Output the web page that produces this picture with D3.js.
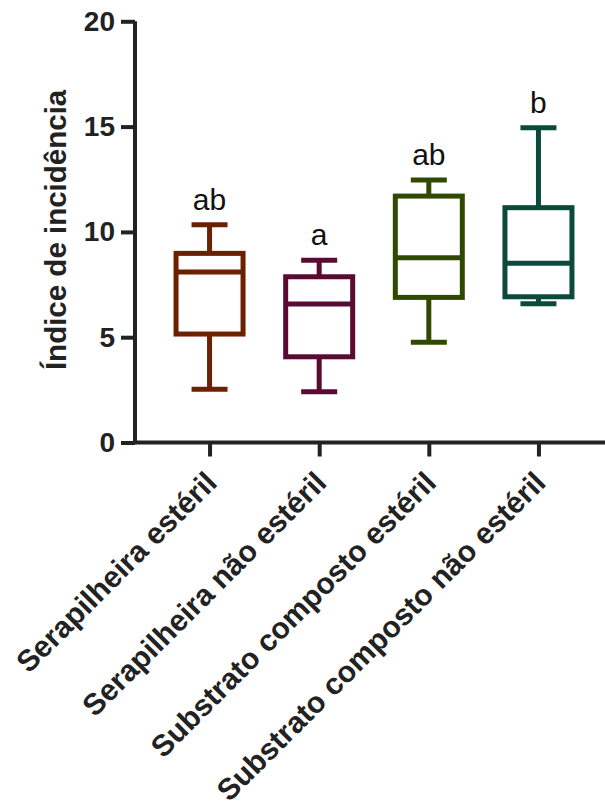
<!DOCTYPE html>
<html>
<head>
<meta charset="utf-8">
<script src="https://cdn.jsdelivr.net/npm/d3@7"></script>
<style>
  html, body { margin: 0; padding: 0; background: #fff; }
  svg { display: block; font-family: Arial, "Liberation Sans", sans-serif; }
</style>
</head>
<body>
<svg id="chart" width="605" height="810"></svg>
<script>
// Treatments and their box-plot summaries (min, Q1, median, Q3, max)
const categories = [
  "Serapilheira estéril",
  "Serapilheira não estéril",
  "Substrato composto estéril",
  "Substrato composto não estéril"
];
const whiskerLow  = [2.53, 2.41, 4.76, 6.59];
const quartile1   = [5.15, 4.07, 6.89, 6.92];
const medians     = [8.10, 6.58, 8.77, 8.51];
const quartile3   = [8.98, 7.87, 11.70, 11.15];
const whiskerHigh = [10.34, 8.65, 12.46, 14.95];
const groupLetters = ["ab", "a", "ab", "b"];
const colors = ["#6b2100", "#5a0a33", "#2f4a00", "#0b4a3a"];
const yTicks = [0, 5, 10, 15, 20];

const svg = d3.select("#chart");
const axisX = 135;

const y = d3.scaleLinear().domain([0, 20]).range([442.5, 21.3]);
const x = d3.scalePoint().domain(categories).range([axisX, 613]).padding(0.68);

const boxes = categories.map((c, i) => ({
  cat: c, lo: whiskerLow[i], q1: quartile1[i], med: medians[i],
  q3: quartile3[i], hi: whiskerHigh[i], letter: groupLetters[i], color: colors[i]
}));

const boxW = 67, capW = 36, sw = 5;

const g = svg.append("g");
const bx = g.selectAll("g.box").data(boxes).join("g").attr("class", "box")
  .attr("stroke", d => d.color).attr("stroke-width", sw).attr("fill", "none");

// whiskers
bx.append("line").attr("x1", d => x(d.cat)).attr("x2", d => x(d.cat))
  .attr("y1", d => y(d.hi)).attr("y2", d => y(d.q3));
bx.append("line").attr("x1", d => x(d.cat)).attr("x2", d => x(d.cat))
  .attr("y1", d => y(d.q1)).attr("y2", d => y(d.lo));
// caps
bx.append("line").attr("x1", d => x(d.cat) - capW / 2).attr("x2", d => x(d.cat) + capW / 2)
  .attr("y1", d => y(d.hi)).attr("y2", d => y(d.hi));
bx.append("line").attr("x1", d => x(d.cat) - capW / 2).attr("x2", d => x(d.cat) + capW / 2)
  .attr("y1", d => y(d.lo)).attr("y2", d => y(d.lo));
// box
bx.append("rect").attr("x", d => x(d.cat) - boxW / 2).attr("width", boxW)
  .attr("y", d => y(d.q3)).attr("height", d => y(d.q1) - y(d.q3));
// median
bx.append("line").attr("x1", d => x(d.cat) - boxW / 2).attr("x2", d => x(d.cat) + boxW / 2)
  .attr("y1", d => y(d.med)).attr("y2", d => y(d.med));

// significance letters
g.selectAll("text.letter").data(boxes).join("text").attr("class", "letter")
  .attr("x", d => x(d.cat)).attr("y", d => y(d.hi) - 15)
  .attr("text-anchor", "middle").attr("font-size", 30).attr("fill", "#111")
  .text(d => d.letter);

// y axis
const yAxis = svg.append("g").attr("transform", `translate(${axisX},0)`)
  .call(d3.axisLeft(y).tickValues(yTicks).tickSize(14).tickPadding(6).tickFormat(d3.format("d")));
yAxis.select(".domain").attr("d", `M0,${y(20)}V${y(0)}`);
yAxis.selectAll("path, line").attr("stroke", "#222").attr("stroke-width", 4);
yAxis.selectAll("text").attr("font-size", 28).attr("font-weight", "bold").attr("fill", "#222")
  .attr("font-family", "Arial, 'Liberation Sans', sans-serif");

// x axis
const xAxis = svg.append("g").attr("transform", `translate(0,${y(0)})`)
  .call(d3.axisBottom(x).tickSize(14).tickFormat(""));
xAxis.select(".domain").attr("d", `M${axisX - 2},0H613`);
xAxis.selectAll("path, line").attr("stroke", "#222").attr("stroke-width", 4);

// rotated category labels
svg.append("g").selectAll("text").data(categories).join("text")
  .attr("transform", d => `translate(${x(d) + 9},${y(0) + 42}) rotate(-45)`)
  .attr("text-anchor", "end").attr("font-size", 30).attr("font-weight", "bold")
  .attr("fill", "#222").text(d => d);

// y axis title
svg.append("text")
  .attr("transform", `translate(66,${y(10) - 2}) rotate(-90)`)
  .attr("text-anchor", "middle").attr("font-size", 29.5).attr("font-weight", "bold")
  .attr("fill", "#222").text("Índice de incidência");
</script>
</body>
</html>
